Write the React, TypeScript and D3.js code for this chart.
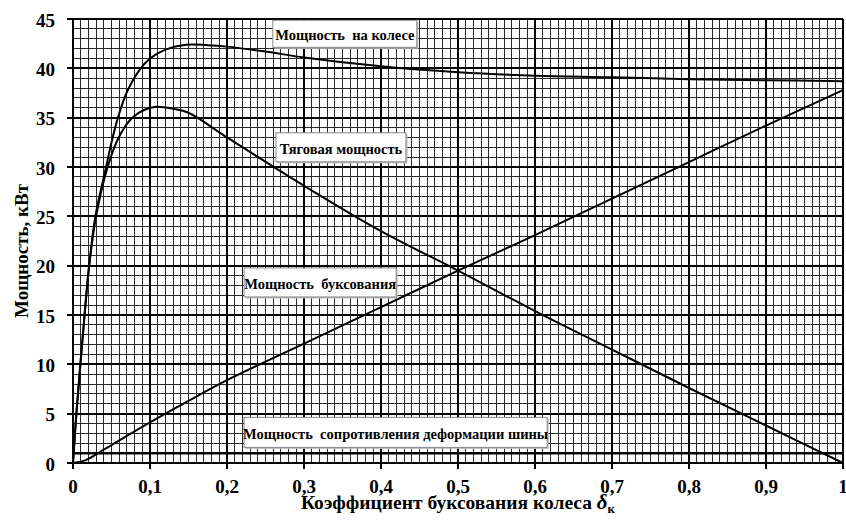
import React from "react";
import * as d3 from "d3";

const wheelX = [0, 0.0044, 0.0096, 0.015, 0.021, 0.029, 0.043, 0.05, 0.058, 0.07, 0.087, 0.1, 0.12, 0.147, 0.175, 0.2, 0.25, 0.3, 0.4, 0.5, 0.6, 0.7, 0.8, 0.9, 1.0];
const wheelPower = [0, 5, 10, 15, 20, 25, 30, 32.5, 34.9, 37.6, 39.9, 41.0, 41.9, 42.4, 42.35, 42.2, 41.7, 41.1, 40.2, 39.6, 39.25, 39.1, 38.9, 38.8, 38.7];
const tractionX = [0, 0.0044, 0.0096, 0.015, 0.021, 0.03, 0.045, 0.06, 0.077, 0.093, 0.108, 0.13, 0.15, 0.2, 0.3, 0.4, 0.5, 0.6, 0.7, 0.8, 0.9, 1.0];
const tractionPower = [0, 5, 10, 15, 20, 25, 30, 33.1, 35, 35.8, 36.1, 35.9, 35.5, 33.0, 28.1, 23.5, 19.5, 15.4, 11.5, 7.6, 3.8, 0];
const buksX = [0, 0.01, 0.02, 0.03, 0.04, 0.05, 0.07, 0.1, 0.15, 0.2, 0.3, 0.4, 0.5, 0.6, 0.7, 0.8, 0.9, 1.0];
const buksPower = [0, 0.12, 0.42, 0.88, 1.35, 1.8, 2.75, 4.12, 6.3, 8.4, 12.1, 15.8, 19.5, 23.1, 26.8, 30.5, 34.2, 37.8];
const deformX = [0, 1];
const deformPower = [1.0, 1.0];

const xTicks = [0, 0.1, 0.2, 0.3, 0.4, 0.5, 0.6, 0.7, 0.8, 0.9, 1];
const yTicks = [0, 5, 10, 15, 20, 25, 30, 35, 40, 45];

const labels = [
  { text: "Мощность  на колесе", x: 0.353, y: 43.5, w: 144, h: 27 },
  { text: "Тяговая мощность", x: 0.348, y: 32.0, w: 130, h: 29 },
  { text: "Мощность  буксования", x: 0.321, y: 18.3, w: 152, h: 29 },
  { text: "Мощность  сопротивления деформации шины", x: 0.419, y: 3.1, w: 303, h: 30 },
];

const W = 846, H = 520;
const M = { left: 73, right: 3, top: 19, bottom: 57 };

export default function App() {
  const x = d3.scaleLinear().domain([0, 1]).range([M.left, W - M.right]);
  const y = d3.scaleLinear().domain([0, 45]).range([H - M.bottom, M.top]);
  const line = d3.line<[number, number]>().x(d => x(d[0])).y(d => y(d[1])).curve(d3.curveCatmullRom.alpha(0.5));
  const minorX = d3.range(0, 101).map(i => i / 100);
  const minorY = d3.range(0, 46);
  const fmt = (v: number) => (v === 0 ? "0" : v === 1 ? "1" : String(v).replace(".", ","));
  const series = [
    wheelX.map((v, i) => [v, wheelPower[i]] as [number, number]),
    tractionX.map((v, i) => [v, tractionPower[i]] as [number, number]),
    buksX.map((v, i) => [v, buksPower[i]] as [number, number]),
  ];
  const font = "'Liberation Serif', 'Times New Roman', serif";
  return (
    <svg width={W} height={H} style={{ position: "absolute", left: 0, top: 0, background: "#fff" }} fontFamily={font}>
      <g shapeRendering="crispEdges">
        {minorX.map(v => (
          <line key={"vx" + v} x1={x(v)} x2={x(v)} y1={y(45)} y2={y(0)} stroke="#2a2a2a" strokeWidth={1} />
        ))}
        {minorY.map(v => (
          <line key={"hy" + v} x1={x(0)} x2={x(1)} y1={y(v)} y2={y(v)} stroke="#2a2a2a" strokeWidth={1} />
        ))}
        {xTicks.map(v => (
          <line key={"mx" + v} x1={x(v)} x2={x(v)} y1={y(45)} y2={y(0) + 6} stroke="#000" strokeWidth={2} />
        ))}
        {yTicks.map(v => (
          <line key={"my" + v} x1={x(0) - 6} x2={x(1)} y1={y(v)} y2={y(v)} stroke="#000" strokeWidth={2} />
        ))}
      </g>
      <line x1={x(deformX[0])} x2={x(deformX[1])} y1={y(deformPower[0])} y2={y(deformPower[1])} stroke="#000" strokeWidth={2.5} />
      {series.map((s, i) => (
        <path key={i} d={line(s) || ""} fill="none" stroke="#000" strokeWidth={2} />
      ))}
      {labels.map((l, i) => {
        const cx = x(l.x), cy = y(l.y);
        return (
          <g key={i}>
            <rect x={cx - l.w / 2 + 1.5} y={cy - l.h / 2 + 1.5} width={l.w} height={l.h} fill="#bbb" />
            <rect x={cx - l.w / 2} y={cy - l.h / 2} width={l.w} height={l.h} fill="#fff" stroke="#888" strokeWidth={1} />
            <text x={cx} y={cy + 6.5} textAnchor="middle" fontSize={14.5} fontWeight="bold" fill="#000" style={{ whiteSpace: "pre" }}>{l.text}</text>
          </g>
        );
      })}
      {xTicks.map(v => (
        <text key={"tx" + v} x={x(v)} y={y(0) + 29.5} textAnchor="middle" fontSize={19} fontWeight="bold">{fmt(v)}</text>
      ))}
      {yTicks.map(v => (
        <text key={"ty" + v} x={x(0) - 18} y={y(v) + 7.5} textAnchor="end" fontSize={19} fontWeight="bold">{v}</text>
      ))}
      <text x={(x(0) + x(1)) / 2} y={H - 11} textAnchor="middle" fontSize={19.5} fontWeight="bold">
        Коэффициент буксования колеса <tspan fontStyle="italic" fontSize={21}>δ</tspan><tspan fontSize={13} dy={4}>к</tspan>
      </text>
      <text transform={`translate(28, ${(y(0) + y(45)) / 2 + 10}) rotate(-90)`} textAnchor="middle" fontSize={19} fontWeight="bold">Мощность, кВт</text>
    </svg>
  );
}
